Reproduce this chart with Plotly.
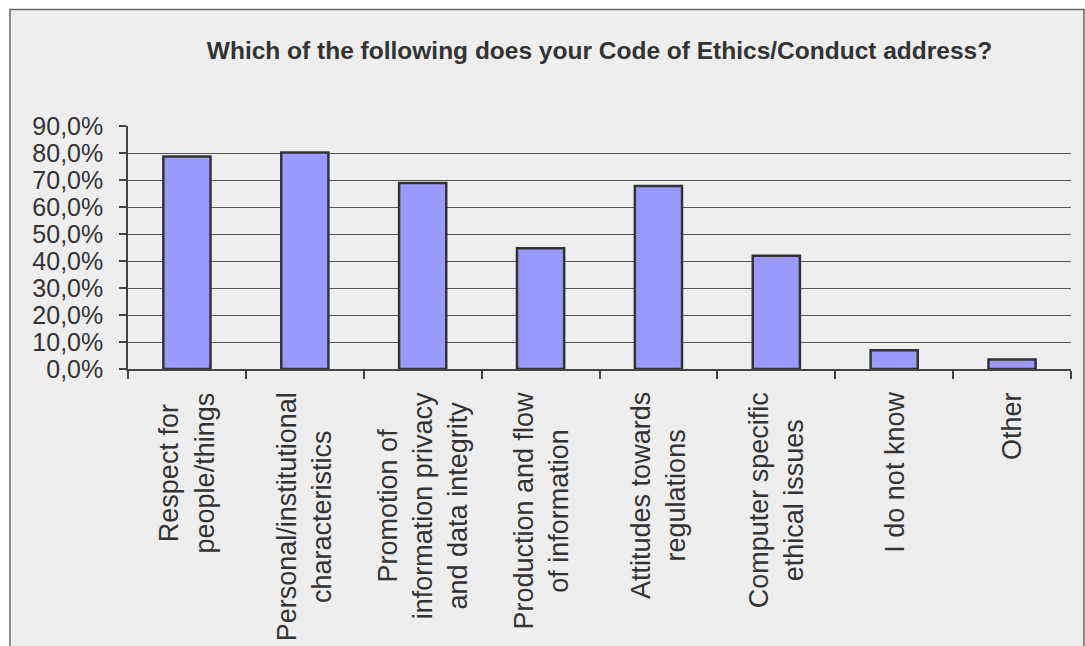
import plotly.graph_objects as go

# Survey question: topics covered by the organisation's Code of Ethics/Conduct
categories = [
    "Respect for<br>people/things",
    "Personal/institutional<br>characteristics",
    "Promotion of<br>information privacy<br>and data integrity",
    "Production and flow<br>of information",
    "Attitudes towards<br>regulations",
    "Computer specific<br>ethical issues",
    "I do not know",
    "Other",
]
share_pct = [78.7, 80.2, 68.9, 44.7, 67.8, 41.9, 6.9, 3.5]
y_max, y_step = 90, 10

W, H = 1085, 646
M_L, M_R, M_T, M_B = 128, 14, 126, 277
plot_w = W - M_L - M_R
plot_h = H - M_T - M_B

FONT = "Liberation Sans, Arial, sans-serif"
TXT = "#333333"

fig = go.Figure()
fig.add_trace(go.Bar(
    x=categories,
    y=share_pct,
    width=0.4,
    marker=dict(color="#9999FF", line=dict(color="#333333", width=2.5)),
    hoverinfo="x+y",
))

# category labels: rotated, lines centred on each other
for cat in categories:
    fig.add_annotation(
        x=cat, xref="x", y=0, yref="paper",
        text=cat, textangle=-90, showarrow=False,
        xanchor="center", yanchor="top", align="center",
        yshift=-22, borderpad=0,
        font=dict(family=FONT, size=27, color=TXT),
    )

# outer frame of the chart area (gray border, light fill)
px = lambda x: (x - M_L) / plot_w
py = lambda y: (H - M_B - y) / plot_h
fig.add_shape(
    type="rect", xref="paper", yref="paper", layer="below",
    x0=px(10), x1=px(1084), y0=py(700), y1=py(9.5),
    fillcolor="#EEEEEE", line=dict(color="#6a6a6a", width=1.5),
)

fig.update_layout(
    width=W, height=H,
    margin=dict(l=M_L, r=M_R, t=M_T, b=M_B),
    paper_bgcolor="white",
    plot_bgcolor="rgba(0,0,0,0)",
    separators=",.",
    showlegend=False,
    title=dict(
        text="<b>Which of the following does your Code of Ethics/Conduct address?</b>",
        x=0.5, xref="paper", xanchor="center",
        y=1 - 50 / H, yref="container", yanchor="middle",
        font=dict(family=FONT, size=24.5, color=TXT),
    ),
    xaxis=dict(
        type="category",
        showticklabels=False,
        showline=True, linecolor="#444444", linewidth=1.5,
        ticks="outside", tickson="boundaries", ticklen=8,
        tickcolor="#444444", tickwidth=1.5,
        showgrid=False, zeroline=False,
    ),
    yaxis=dict(
        range=[0, y_max],
        tickmode="linear", tick0=0, dtick=y_step,
        tickformat=".1f", ticksuffix="%", showticksuffix="all",
        tickfont=dict(family=FONT, size=25, color=TXT),
        showline=True, linecolor="#444444", linewidth=1.5,
        ticks="outside", ticklen=7, tickcolor="#444444", tickwidth=1.5,
        showgrid=True, gridcolor="#555555", gridwidth=1,
        zeroline=False,
        ticklabelstandoff=11,
    ),
)

fig.write_html("out.html")
